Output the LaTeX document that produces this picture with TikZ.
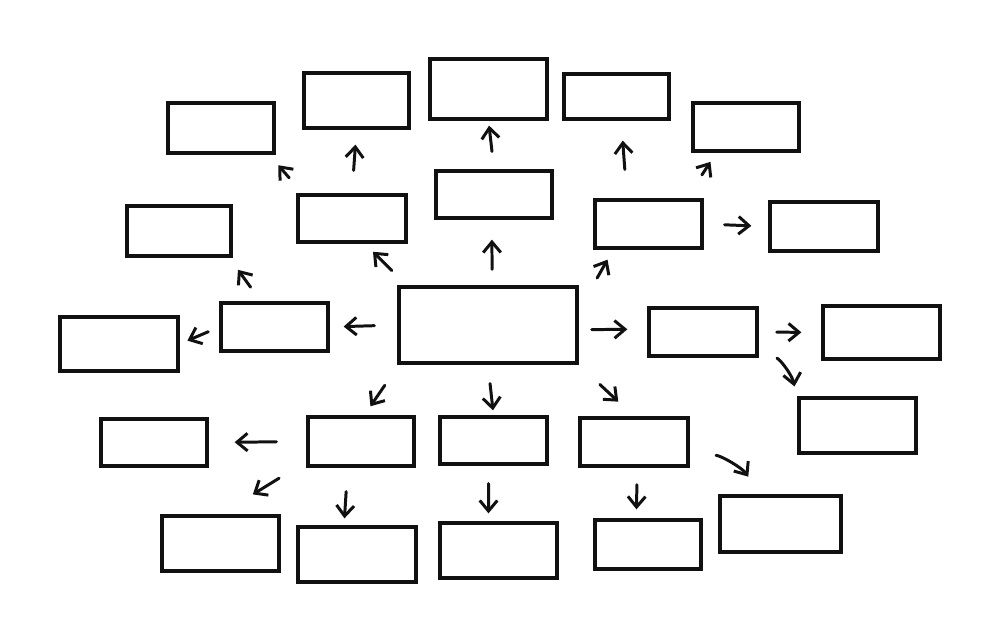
\documentclass[tikz,border=0pt]{standalone}
\definecolor{mmink}{HTML}{111111}
\usepackage{tikz}
\usetikzlibrary{arrows.meta}
\usepackage{xcolor}

\begin{document}
\begin{tikzpicture}[
  x=0.02cm, y=-0.02cm,
  mbox/.style 2 args={draw=mmink, line width=1.9pt, inner sep=0pt,
              minimum width=#1, minimum height=#2},
  arr/.style={draw=mmink, line width=1.7pt, line cap=round,
              -{Straight Barb[length=6pt, width=10pt]}},
]
  \useasboundingbox[fill=white] (0,0) rectangle (1000,642);

  % top row
  \node[mbox={2.12cm}{1.00cm}] (A) at (221,128) {};
  \node[mbox={2.10cm}{1.10cm}] (B) at (356.5,100.5) {};
  \node[mbox={2.34cm}{1.20cm}] (C) at (488.5,89) {};
  \node[mbox={2.10cm}{0.90cm}] (G) at (616.5,96.5) {};
  \node[mbox={2.12cm}{0.96cm}] (H) at (746,127) {};

  % second row
  \node[mbox={2.08cm}{1.00cm}] (D) at (179,231) {};
  \node[mbox={2.16cm}{0.94cm}] (E) at (352,218.5) {};
  \node[mbox={2.32cm}{0.94cm}] (F) at (494,194.5) {};
  \node[mbox={2.14cm}{0.96cm}] (I) at (648.5,224) {};
  \node[mbox={2.16cm}{0.98cm}] (J) at (824,226.5) {};

  % middle row
  \node[mbox={2.36cm}{1.08cm}] (K) at (119,344) {};
  \node[mbox={2.14cm}{0.96cm}] (L) at (274.5,327) {};
  \node[mbox={3.56cm}{1.52cm}] (M) at (488,325) {};
  \node[mbox={2.16cm}{0.96cm}] (N) at (703,332) {};
  \node[mbox={2.34cm}{1.06cm}] (O) at (881.5,332.5) {};
  \node[mbox={2.34cm}{1.10cm}] (P) at (857.5,425.5) {};

  % lower rows
  \node[mbox={2.12cm}{0.94cm}] (Q) at (154,442.5) {};
  \node[mbox={2.12cm}{0.98cm}] (R) at (361,441.5) {};
  \node[mbox={2.14cm}{0.94cm}] (S) at (493.5,440.5) {};
  \node[mbox={2.16cm}{0.96cm}] (T) at (634,442) {};
  \node[mbox={2.34cm}{1.10cm}] (U) at (220.5,543.5) {};
  \node[mbox={2.36cm}{1.10cm}] (V) at (357,554.5) {};
  \node[mbox={2.34cm}{1.10cm}] (W) at (498.5,550.5) {};
  \node[mbox={2.12cm}{0.98cm}] (X) at (648,544.5) {};
  \node[mbox={2.42cm}{1.12cm}] (Y) at (780.5,524) {};

  % arrows out of the centre box
  \draw[arr, shorten <=0.46cm, shorten >=0.28cm] (M.west) -- (L.east);
  \draw[arr, shorten <=0.42cm, shorten >=0.23cm] (M.154) -- (E.-63);
  \draw[arr, shorten <=0.32cm, shorten >=0.40cm] (M.84) -- (F.-95);
  \draw[arr, shorten <=0.75cm, shorten >=0.23cm] (M.9) -- (I.-144);
  \draw[arr, shorten <=0.26cm, shorten >=0.40cm] (M.-3) -- (N.177);
  \draw[arr, shorten <=0.50cm, shorten >=0.22cm] (M.-156) -- (R.83);
  \draw[arr, shorten <=0.38cm, shorten >=0.10cm] (M.south) -- (S.north);
  \draw[arr, shorten <=0.58cm, shorten >=0.43cm] (M.south east) -- (T.north);

  % second level
  \draw[arr, shorten <=0.24cm, shorten >=0.17cm] (L.west) -- (K.east);
  \draw[arr, shorten <=0.35cm, shorten >=0.30cm] (L.118) -- (D.-28);
  \draw[arr, shorten <=0.41cm, shorten >=0.28cm] (E.153) -- (A.-29);
  \draw[arr, shorten <=0.46cm, shorten >=0.30cm] (E.north) -- (B.south);
  \draw[arr, shorten <=0.36cm, shorten >=0.10cm] (F.north) -- (C.south);
  \draw[arr, shorten <=0.58cm, shorten >=0.40cm] (I.130) -- (G.-79);
  \draw[arr, shorten <=0.56cm, shorten >=0.22cm] (I.34) -- (H.-139);
  \draw[arr, shorten <=0.42cm, shorten >=0.34cm] (I.east) -- (J.west);
  \draw[arr, shorten <=0.36cm, shorten >=0.40cm] (N.east) -- (O.west);
  \draw[arr, shorten <=0.42cm, shorten >=0.30cm] (N.-16) to[bend left=25] (P.158);
  \draw[arr, shorten <=0.60cm, shorten >=0.52cm] (R.west) -- (Q.east);
  \draw[arr, shorten <=0.64cm, shorten >=0.76cm] (R.-160) -- (U.north);
  \draw[arr, shorten <=0.48cm, shorten >=0.14cm] (R.-117) -- (V.114);
  \draw[arr, shorten <=0.36cm, shorten >=0.16cm] (S.-101) -- (W.109);
  \draw[arr, shorten <=0.34cm, shorten >=0.18cm] (T.-83) -- (X.114);
  \draw[arr, shorten <=0.53cm, shorten >=0.43cm] (T.-11) to[bend left=25] (Y.124);
\end{tikzpicture}
\end{document}
